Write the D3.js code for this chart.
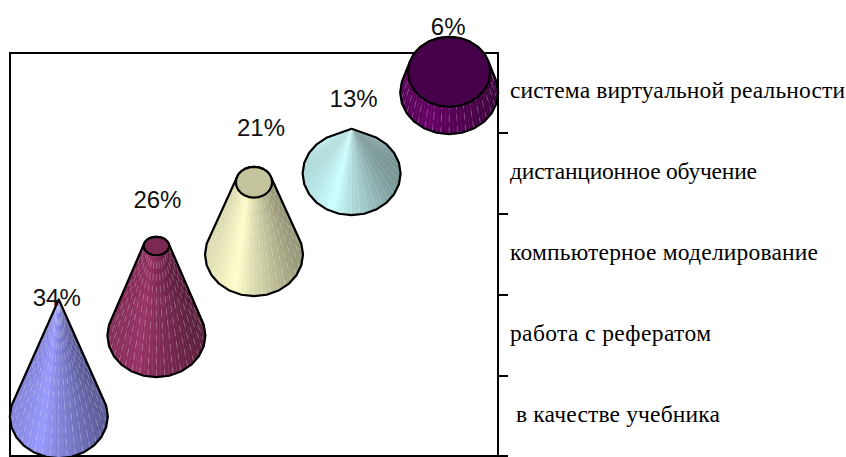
<!DOCTYPE html>
<html><head><meta charset="utf-8">
<script src="https://cdn.jsdelivr.net/npm/d3@7/dist/d3.min.js"></script>
<style>html,body{margin:0;padding:0;background:#fff}svg{display:block}</style>
</head><body><svg id="c" width="846" height="457"></svg>
<script>
const categories = ["в качестве учебника","работа с рефератом","компьютерное моделирование","дистанционное обучение","система виртуальной реальности"];
const values = [34,26,21,13,6];
const valueLabels = ["34%","26%","21%","13%","6%"];
const baseColors = ["#9999ff","#993366","#ffffcc","#ccffff","#660066"];
const capColors = ["#8080d0","#7a2952","#c4c49c","#a3cccc","#47004a"];
const topRatios = [0,0.26,0.37,0,0.84];
const capSquash = [0.85,0.72,0.85,0.85,0.85];
const labelX = [516,510,510,510,510];
const labelWidths = [204,201,308,247,335];
const pctOffset = [[-2,6],[1,-38.5],[7,-46],[2,-22],[-1,-37]];

const svg = d3.select("#c");
const plot = {l:10,r:498,t:53,b:457};
const x = d3.scaleBand().domain(categories).range([plot.l,plot.r]);
const y = d3.scaleBand().domain(categories).range([plot.b,plot.t-1]);
const h = d3.scaleLinear().domain([0,34]).range([0,117]);
const baseRx = 49, squash = 0.85, N = 72;
const shade = d3.scaleLinear().domain([-1,-0.4,0,1]).range([0.86,1,0.86,0.58]);

svg.append("rect").attr("x",plot.l).attr("y",plot.t).attr("width",plot.r-plot.l).attr("height",plot.b-plot.t-1)
  .attr("fill","#fff").attr("stroke","#000").attr("stroke-width",2);
const ticks = categories.slice(0,4).map(d=>y(d)).concat([plot.b-1]);
svg.selectAll("line.tick").data(ticks).join("line").attr("class","tick")
  .attr("x1",plot.r).attr("x2",plot.r+10).attr("y1",d=>d).attr("y2",d=>d)
  .attr("stroke","#000").attr("stroke-width",2);
svg.selectAll("text.cat").data(categories).join("text").attr("class","cat")
  .attr("x",(d,i)=>labelX[i]).attr("y",d=>y(d)+y.bandwidth()/2-2)
  .attr("dy","0.32em").attr("font-family","'Liberation Serif'").attr("font-size",23.5)
  .attr("textLength",(d,i)=>labelWidths[i]).attr("lengthAdjust","spacing")
  .attr("fill","#000").text(d=>d);

function ring(cx,cy,rx,n,sq){
  return d3.range(n).map(i=>{const t=i/n*2*Math.PI;return [cx+rx*Math.cos(t),cy+rx*sq*Math.sin(t)];});
}
const line = d3.line().curve(d3.curveLinearClosed);

categories.forEach((cat,i)=>{
  const g = svg.append("g");
  const cx = x(cat)+x.bandwidth()/2, cy = y(cat)+y.bandwidth()/2;
  const topY = cy-h(values[i]), topRx = baseRx*topRatios[i];
  const bot = ring(cx,cy,baseRx,N,squash), top = ring(cx,topY,topRx,N,capSquash[i]);
  const base = d3.rgb(baseColors[i]);
  const facets = d3.range(N).map(k=>{
    const k2=(k+1)%N, a=(k+.5)/N*2*Math.PI;
    return {pts:[bot[k],bot[k2],top[k2],top[k]],u:Math.cos(a),s:Math.sin(a),k};
  }).sort((p,q)=>d3.ascending(p.s,q.s));
  const col = d=>{const m=shade(d.u);return d3.rgb(base.r*m,base.g*m,base.b*m).formatHex();};
  g.selectAll("path.f").data(facets).join("path").attr("d",d=>line(d.pts))
    .attr("fill",col).attr("stroke",col).attr("stroke-width",0.5);
  const seams=facets.filter(d=>(i===3||d.s>0)&&d.k%2===0);
  g.selectAll("line.s").data(seams).join("line")
    .attr("x1",d=>d.pts[0][0]).attr("y1",d=>d.pts[0][1]).attr("x2",d=>d.pts[3][0]).attr("y2",d=>d.pts[3][1])
    .attr("stroke","#fff").attr("stroke-opacity",i===3?0.18:0.32).attr("stroke-width",0.8)
    .attr("stroke-dasharray",i===3?null:"7 5");
  const coarse = p=>p.filter((_,k)=>k%3===0);
  const hull = d3.polygonHull(coarse(bot).concat(coarse(top)));
  g.append("path").attr("d",line(hull)).attr("fill","none").attr("stroke","#000").attr("stroke-width",2.2).attr("stroke-linejoin","round");
  if(topRatios[i]>0){
    g.append("path").attr("d",line(coarse(top))).attr("fill",capColors[i]).attr("stroke","#000").attr("stroke-width",2.2).attr("stroke-linejoin","round");
  }
  svg.append("text").attr("x",cx+pctOffset[i][0]).attr("y",topY+pctOffset[i][1])
    .attr("text-anchor","middle").attr("font-family","'Liberation Sans'").attr("font-size",24).attr("fill","#111").text(valueLabels[i]);
});
</script></body></html>
